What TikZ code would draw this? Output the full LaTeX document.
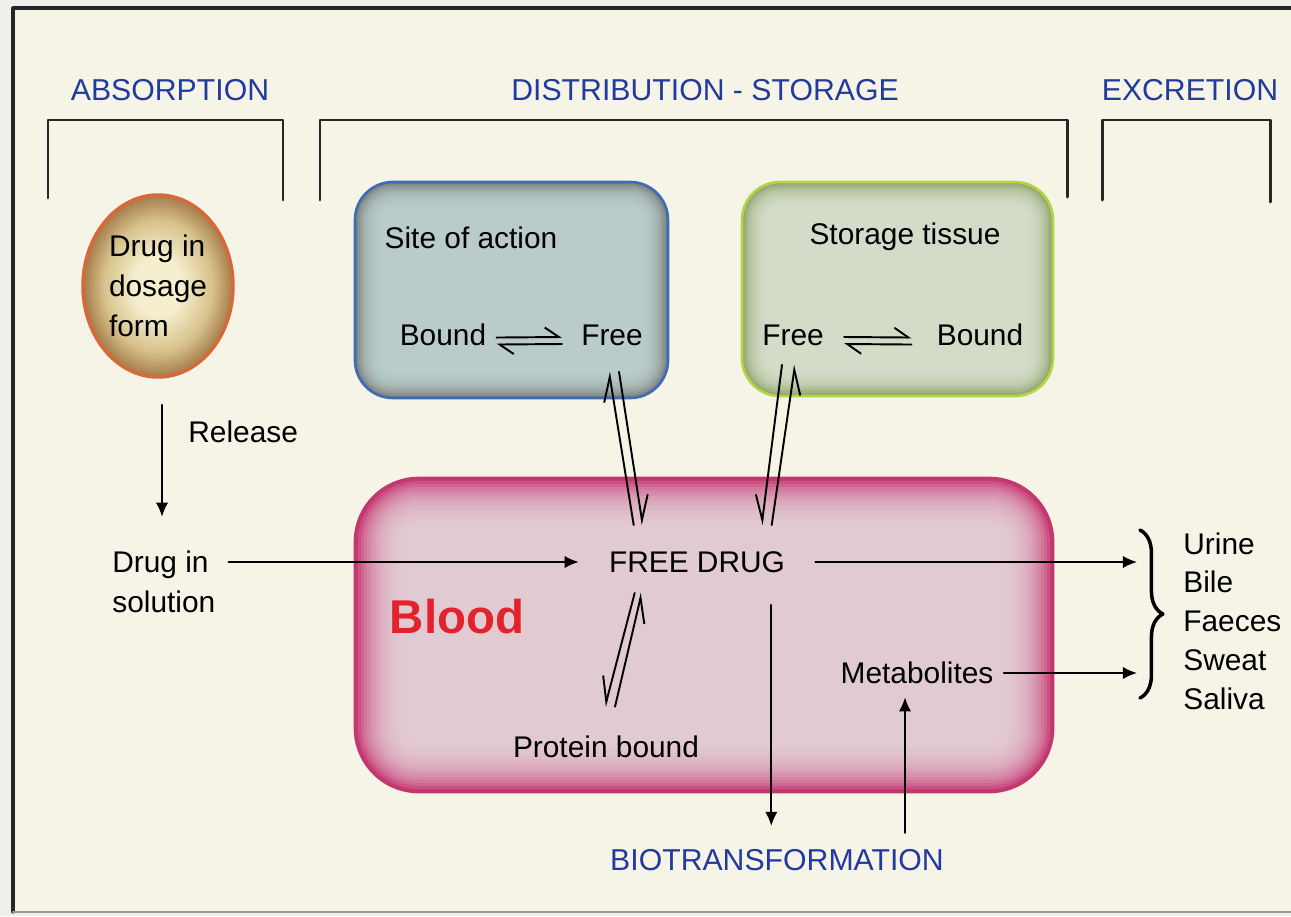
\documentclass[tikz,border=0pt]{standalone}
\usepackage{fontspec}
\setmainfont{Liberation Sans}
\usetikzlibrary{arrows.meta,calc,shapes.geometric,decorations.pathreplacing}
\definecolor{paper}{HTML}{F6F4E7}
\definecolor{margin}{HTML}{EFEFEC}
\definecolor{headblue}{HTML}{22399E}
\definecolor{bloodred}{HTML}{E3232B}
\definecolor{siteband}{HTML}{767C78}
\definecolor{sitecore}{HTML}{C2D6D5}
\definecolor{siterim}{HTML}{3E6DB6}
\definecolor{storeband}{HTML}{8AA068}
\definecolor{storecore}{HTML}{DCE4D3}
\definecolor{storerim}{HTML}{B5D545}
\definecolor{bloodband}{HTML}{C63A74}
\definecolor{bloodcore}{HTML}{E8DADE}
\definecolor{bloodrim}{HTML}{C2376C}
\definecolor{dosein}{HTML}{F5EFCF}
\definecolor{dosemid}{HTML}{D8C28C}
\definecolor{doseout}{HTML}{A47C4A}
\definecolor{doserim}{HTML}{D6683A}
\pgfdeclareradialshading{dosefade}{\pgfpointorigin}{color(0bp)=(dosein); color(8bp)=(dosein); color(18bp)=(dosemid); color(25bp)=(doseout); color(50bp)=(doseout)}
\tikzset{
 lbl/.style={font=\fontsize{17}{22.7}\selectfont, inner sep=0pt},
 head/.style={font=\fontsize{17.2}{20}\selectfont, text=headblue, inner sep=0pt},
 brk/.style={line width=1.7pt, black!85},
 arr/.style={line width=1.1pt, -{Latex[length=8pt,width=7pt]}},
 eqh/.style={line width=1.1pt, -{Straight Barb[left,length=8pt,width=11pt]}},
 eqvl/.style={line width=1.1pt, -{Straight Barb[left,length=14pt,width=11pt]}},
 eqvr/.style={line width=1.1pt, -{Straight Barb[right,length=14pt,width=11pt]}},
 brc/.style={decorate, decoration={brace, amplitude=13pt}, line width=2pt},
 dosage/.style={ellipse, minimum width=3cm, minimum height=3.64cm, inner sep=0pt,
  shading=dosefade, draw=doserim, line width=2pt,
  font=\fontsize{17}{22.7}\selectfont, align=left}
}
\begin{document}
\begin{tikzpicture}[x=0.02cm, y=-0.02cm, line join=round, line cap=round]
 \useasboundingbox (0,0) rectangle (1291,916);
 \fill[margin] (0,0) rectangle (1291,916);
 \fill[paper] (13,8) rectangle (1291,912);
 \draw[line width=1.8pt, black!85] (1291,8) -- (13,8) -- (13,912);
 \draw[line width=1.5pt, black!40] (13,912) -- (1291,912);
 \node[head] (absorb) at (170,90) {ABSORPTION};
 \node[head] (distr) at (705,90) {DISTRIBUTION - STORAGE};
 \node[head] (excr) at (1190,90) {EXCRETION};
 \draw[brk] (48,198) |- (283,120) -- (283,200);
 \draw[brk] (320,200) |- (1067,120) -- (1067,197);
 \draw[brk] (1102,200) |- (1270,120) -- (1270,202);
 \foreach \xa/\ya/\xb/\yb/\rad/\st/\bnd/\cor/\rim in
  {355/182/668/398/38/1.6/siteband/sitecore/siterim,
   742/182/1053/396/38/1.6/storeband/storecore/storerim,
   355/478/1053/792/64/3/bloodband/bloodcore/bloodrim}{
  \pgfmathsetmacro\rout{\rad*0.567}
  \fill[\bnd, rounded corners=\rout pt] (\xa,\ya) rectangle (\xb,\yb);
  \foreach \k in {1,...,16}{
   \pgfmathsetmacro\ins{\k*\st}
   \pgfmathsetmacro\rin{max(\rad-\ins,4)*0.567}
   \fill[\cor, opacity=0.15, rounded corners=\rin pt] (\xa+\ins,\ya+\ins) rectangle (\xb-\ins,\yb-\ins);
  }
  \draw[\rim, line width=1.5pt, rounded corners=\rout pt] (\xa,\ya) rectangle (\xb,\yb);
 }
 \node[dosage] (dose) at (158,286) {Drug in\\dosage\\form};
 \node[lbl] (site) at (471,238) {Site of action};
 \node[lbl] (sbound) at (443,335) {Bound};
 \node[lbl] (sfree) at (612,335) {Free};
 \node[lbl] (store) at (905,237) {Storage tissue};
 \node[lbl] (stfree) at (793,335) {Free};
 \node[lbl] (stbound) at (980,335) {Bound};
 \node[lbl, anchor=west] (rel) at (188,432) {Release};
 \node[lbl, anchor=west, align=left] (sol) at (112,582) {Drug in\\solution};
 \node[lbl] (fd) at (697,562) {FREE DRUG};
 \node[inner sep=0pt, font=\bfseries\fontsize{27}{30}\selectfont, text=bloodred] (blood) at (457,617) {Blood};
 \node[lbl] (pb) at (606,747) {Protein bound};
 \node[lbl] (met) at (917,673) {Metabolites};
 \node[lbl, anchor=west, align=left, font=\fontsize{17}{22.1}\selectfont] (exc) at (1183,621) {Urine\\Bile\\Faeces\\Sweat\\Saliva};
 \node[head] (bio) at (777,860) {BIOTRANSFORMATION};
 \draw[eqh] ($(sbound.mid east)+(10,-3.5)$) -- ($(sfree.mid west)+(-19,-3.5)$);
 \draw[eqh] ($(sfree.mid west)+(-19,3.5)$) -- ($(sbound.mid east)+(10,3.5)$);
 \draw[eqh] ($(stfree.mid east)+(20,-3.5)$) -- ($(stbound.mid west)+(-25,-3.5)$);
 \draw[eqh] ($(stbound.mid west)+(-25,3.5)$) -- ($(stfree.mid east)+(20,3.5)$);
 \draw[eqvl] ($(fd.north west)+(25,-26)$) -- ($(sfree.south)+(-3,26)$);
 \draw[eqvl] ($(sfree.south)+(7,26)$) -- ($(fd.north west)+(34,-26)$);
 \draw[eqvr] ($(stfree.south)+(-11,19)$) -- ($(fd.north west)+(153,-26)$);
 \draw[eqvr] ($(fd.north west)+(163,-26)$) -- ($(stfree.south)+(2,19)$);
 \draw[eqvr] ($(pb.north)+(9,-29)$) -- ($(fd.south west)+(33,20)$);
 \draw[eqvr] ($(fd.south west)+(26,20)$) -- ($(pb.north)+(-1,-29)$);
 \draw[arr] ($(dose.south)+(4,26)$) -- ($(sol.north west)+(50,-34)$);
 \draw[arr] ($(sol.east |- fd.west)+(13,0)$) -- ($(fd.west)+(-30,0)$);
 \draw[arr] ($(fd.east)+(30,0)$) -- ($(fd.east -| exc.west)+(-46,0)$);
 \draw[arr] ($(met.east)+(10,0)$) -- ($(met.east -| exc.west)+(-46,0)$);
 \draw[arr] ($(fd.south east)+(-14,32)$) -- ($(fd.south east |- bio.north)+(-14,-23)$);
 \draw[arr] ($(met.south |- bio.north)+(-12,-16)$) -- ($(met.south)+(-12,13)$);
 \draw[brc] ($(exc.west)+(-43,-91)$) -- ($(exc.west)+(-43,77)$);
\end{tikzpicture}
\end{document}
